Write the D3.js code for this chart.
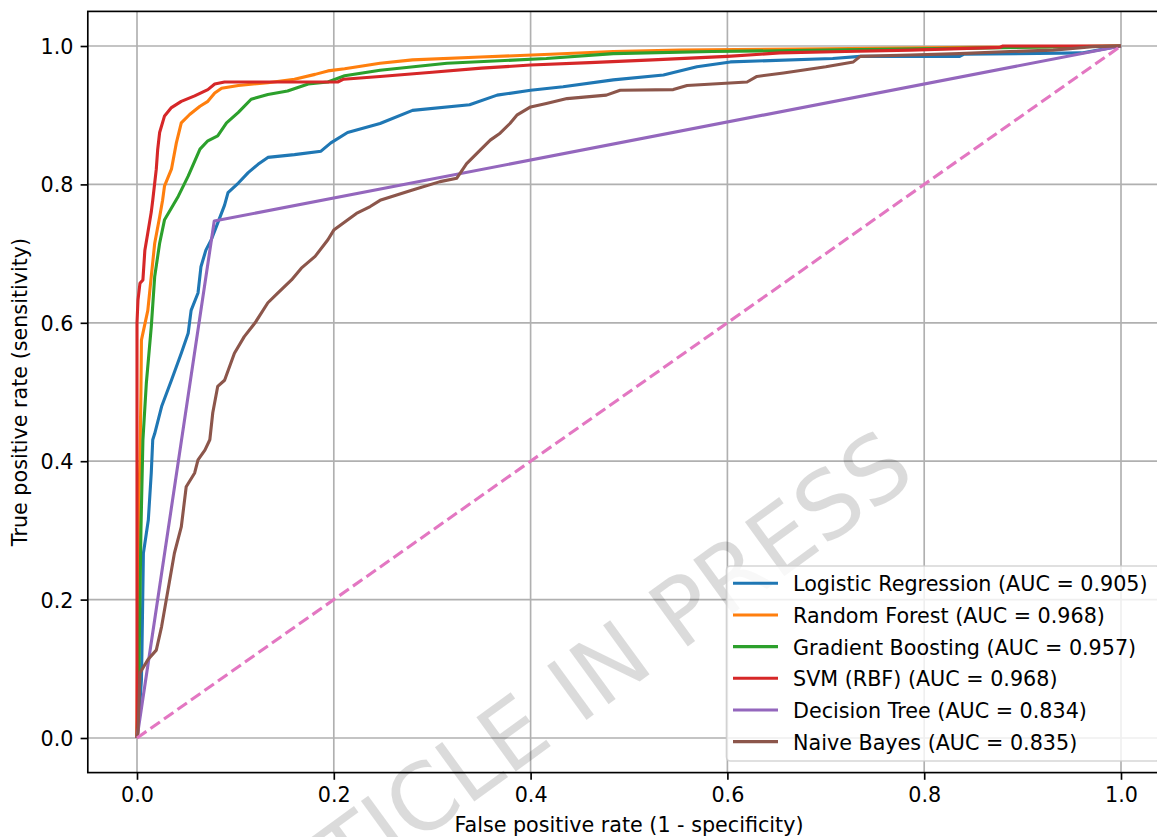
<!DOCTYPE html>
<html>
<head>
<meta charset="utf-8">
<script src="https://cdn.jsdelivr.net/npm/d3@7"></script>
<style>
	body { margin: 0; background: #fff; }
</style>
</head>
<body>
<script>
// ROC points, [false positive rate, true positive rate]
const logisticRegression = [[0,0],[0.002,0.03],[0.0045,0.084],[0.005,0.123],[0.0065,0.267],[0.0115,0.315],[0.0145,0.383],[0.016,0.431],[0.018,0.44],[0.025,0.479],[0.035,0.517],[0.045,0.556],[0.052,0.585],[0.055,0.618],[0.062,0.643],[0.065,0.681],[0.070,0.705],[0.0755,0.720],[0.082,0.744],[0.089,0.770],[0.0925,0.788],[0.103,0.802],[0.113,0.817],[0.123,0.829],[0.133,0.839],[0.160,0.843],[0.187,0.848],[0.197,0.860],[0.214,0.875],[0.247,0.888],[0.28,0.907],[0.338,0.915],[0.366,0.929],[0.40,0.936],[0.433,0.941],[0.484,0.951],[0.535,0.958],[0.569,0.970],[0.603,0.977],[0.707,0.982],[0.735,0.985],[0.836,0.985],[0.84,0.988],[0.96,0.99],[1,1]];
const randomForest = [[0,0],[0.001,0.2],[0.002,0.35],[0.003,0.402],[0.004,0.50],[0.0045,0.575],[0.011,0.618],[0.0145,0.667],[0.018,0.715],[0.023,0.753],[0.026,0.777],[0.028,0.798],[0.035,0.822],[0.040,0.860],[0.045,0.889],[0.0535,0.901],[0.064,0.913],[0.072,0.920],[0.079,0.932],[0.086,0.939],[0.103,0.943],[0.133,0.947],[0.160,0.952],[0.181,0.959],[0.194,0.964],[0.211,0.967],[0.247,0.975],[0.28,0.98],[0.349,0.984],[0.42,0.988],[0.484,0.992],[0.552,0.994],[0.70,0.996],[0.85,0.998],[1,1]];
const gradientBoosting = [[0,0],[0.002,0.1],[0.004,0.3],[0.006,0.43],[0.0095,0.513],[0.0145,0.594],[0.018,0.667],[0.023,0.715],[0.028,0.749],[0.035,0.766],[0.042,0.783],[0.052,0.812],[0.064,0.851],[0.072,0.863],[0.082,0.870],[0.091,0.889],[0.103,0.904],[0.116,0.923],[0.133,0.930],[0.153,0.935],[0.174,0.945],[0.194,0.948],[0.211,0.957],[0.247,0.965],[0.315,0.975],[0.416,0.982],[0.484,0.989],[0.585,0.992],[0.70,0.994],[0.85,0.997],[1,1]];
const svmRbf = [[0,0],[0,0.60],[0.001,0.633],[0.003,0.657],[0.006,0.662],[0.008,0.705],[0.011,0.73],[0.0145,0.76],[0.016,0.777],[0.0196,0.822],[0.021,0.85],[0.023,0.875],[0.028,0.899],[0.035,0.911],[0.045,0.920],[0.0586,0.928],[0.072,0.937],[0.079,0.945],[0.089,0.948],[0.204,0.948],[0.21,0.952],[0.247,0.956],[0.30,0.962],[0.35,0.968],[0.40,0.9725],[0.46,0.976],[0.524,0.98],[0.60,0.985],[0.653,0.99],[0.72,0.992],[0.786,0.994],[0.877,0.998],[0.88,1],[1,1]];
const decisionTree = [[0,0],[0.0785,0.747],[1,1]];
const naiveBayes = [[0,0],[0.001,0.007],[0.003,0.094],[0.011,0.113],[0.0196,0.127],[0.025,0.161],[0.031,0.21],[0.038,0.267],[0.045,0.305],[0.050,0.363],[0.0586,0.383],[0.062,0.402],[0.069,0.416],[0.074,0.431],[0.077,0.47],[0.082,0.508],[0.089,0.517],[0.099,0.556],[0.109,0.58],[0.12,0.60],[0.133,0.629],[0.143,0.643],[0.157,0.662],[0.167,0.679],[0.181,0.696],[0.194,0.72],[0.2,0.734],[0.223,0.758],[0.237,0.768],[0.247,0.777],[0.28,0.792],[0.308,0.804],[0.325,0.809],[0.335,0.830],[0.349,0.850],[0.359,0.864],[0.369,0.874],[0.379,0.888],[0.386,0.90],[0.40,0.912],[0.416,0.917],[0.437,0.924],[0.477,0.929],[0.491,0.936],[0.545,0.937],[0.559,0.943],[0.62,0.948],[0.63,0.956],[0.657,0.961],[0.70,0.970],[0.728,0.977],[0.735,0.985],[0.786,0.987],[0.836,0.989],[0.887,0.992],[0.931,0.994],[0.971,0.999],[1,1]];
const chanceLine = [[0,0],[1,1]];

const modelNames = ["Logistic Regression", "Random Forest", "Gradient Boosting", "SVM (RBF)", "Decision Tree", "Naive Bayes"];
const aucValues = [0.905, 0.968, 0.957, 0.968, 0.834, 0.835];
const modelCurves = [logisticRegression, randomForest, gradientBoosting, svmRbf, decisionTree, naiveBayes];
const tickValues = [0, 0.2, 0.4, 0.6, 0.8, 1.0];

const xLabel = "False positive rate (1 - specificity)";
const yLabel = "True positive rate (sensitivity)";
const watermark = "ARTICLE IN PRESS";

const WIDTH = 1157;
const HEIGHT = 837;
const PLOT = { left: 87.8, right: 1170.2, top: 11.4, bottom: 772.6 };
const FONT = "'DejaVu Sans', sans-serif";
const FONT_SIZE = 20.7;
const TICK_SIZE = 7.2;
const LINE_W = 3.1;
const THIN_W = 1.66;
const COLORS = ["#1f77b4", "#ff7f0e", "#2ca02c", "#d62728", "#9467bd", "#8c564b"];

const svg = d3.create("svg")
	.attr("width", WIDTH)
	.attr("height", HEIGHT)
	.style("display", "block")
	.style("background", "#fff");

const x = d3.scaleLinear()
	.domain([-0.05, 1.05])
	.range([PLOT.left, PLOT.right]);

const y = d3.scaleLinear()
	.domain([-0.05, 1.05])
	.range([PLOT.bottom, PLOT.top]);

svg.append("clipPath")
	.attr("id", "plotClip")
	.append("rect")
	.attr("x", PLOT.left)
	.attr("y", PLOT.top)
	.attr("width", PLOT.right - PLOT.left)
	.attr("height", PLOT.bottom - PLOT.top);

// grid
const gridGroup = svg.append("g").attr("class", "grid");
gridGroup.selectAll(".vertical-line")
	.data(tickValues)
	.join("line")
	.attr("x1", d => x(d))
	.attr("x2", d => x(d))
	.attr("y1", PLOT.top)
	.attr("y2", PLOT.bottom)
	.attr("stroke", "#b0b0b0")
	.attr("stroke-width", THIN_W);
gridGroup.selectAll(".horizontal-line")
	.data(tickValues)
	.join("line")
	.attr("x1", PLOT.left)
	.attr("x2", PLOT.right)
	.attr("y1", d => y(d))
	.attr("y2", d => y(d))
	.attr("stroke", "#b0b0b0")
	.attr("stroke-width", THIN_W);

const line = d3.line()
	.x(d => x(d[0]))
	.y(d => y(d[1]));

const curves = svg.append("g").attr("clip-path", "url(#plotClip)");
curves.selectAll(".roc")
	.data(modelCurves)
	.join("path")
	.attr("class", "roc")
	.attr("d", line)
	.attr("fill", "none")
	.attr("stroke", (d, i) => COLORS[i])
	.attr("stroke-width", LINE_W)
	.attr("stroke-linejoin", "round");

curves.append("path")
	.datum(chanceLine)
	.attr("d", line)
	.attr("fill", "none")
	.attr("stroke", "#e377c2")
	.attr("stroke-width", LINE_W)
	.attr("stroke-dasharray", "11.5,5");

// axes
const xAxis = d3.axisBottom(x)
	.tickValues(tickValues)
	.tickFormat(d3.format(".1f"))
	.tickSize(TICK_SIZE)
	.tickPadding(7.2);
const xAxisGroup = svg.append("g")
	.attr("transform", `translate(0,${PLOT.bottom})`)
	.call(xAxis);

const yAxis = d3.axisLeft(y)
	.tickValues(tickValues)
	.tickFormat(d3.format(".1f"))
	.tickSize(TICK_SIZE)
	.tickPadding(7.2);
const yAxisGroup = svg.append("g")
	.attr("transform", `translate(${PLOT.left},0)`)
	.call(yAxis);

[xAxisGroup, yAxisGroup].forEach(g => {
	g.select(".domain").remove();
	g.selectAll(".tick line").attr("stroke", "#000").attr("stroke-width", THIN_W);
	g.selectAll(".tick text")
		.attr("fill", "#000")
		.style("font-family", FONT)
		.style("font-size", `${FONT_SIZE}px`);
});
xAxisGroup.selectAll(".tick text").attr("dy", "0.72em");
yAxisGroup.selectAll(".tick text").attr("dy", "0.36em");

svg.append("rect")
	.attr("x", PLOT.left)
	.attr("y", PLOT.top)
	.attr("width", PLOT.right - PLOT.left)
	.attr("height", PLOT.bottom - PLOT.top)
	.attr("fill", "none")
	.attr("stroke", "#000")
	.attr("stroke-width", THIN_W);

svg.append("text")
	.attr("x", (PLOT.left + PLOT.right) / 2)
	.attr("y", 832)
	.attr("text-anchor", "middle")
	.style("font-family", FONT)
	.style("font-size", `${FONT_SIZE}px`)
	.text(xLabel);

svg.append("text")
	.attr("transform", `translate(27,${(PLOT.top + PLOT.bottom) / 2}) rotate(-90)`)
	.attr("text-anchor", "middle")
	.style("font-family", FONT)
	.style("font-size", `${FONT_SIZE}px`)
	.text(yLabel);

// watermark, runs off the bottom edge like the original
svg.append("text")
	.attr("transform", "translate(566,696) rotate(-36)")
	.attr("text-anchor", "middle")
	.attr("dominant-baseline", "central")
	.style("font-family", FONT)
	.style("font-size", "92px")
	.attr("fill", "#000")
	.attr("fill-opacity", 0.14)
	.text(watermark);

// legend
const LEGEND = { left: 726.5, top: 566, right: 1160, bottom: 761, rowGap: 31.67, firstRow: 583.3 };
const legendGroup = svg.append("g");
legendGroup.append("rect")
	.attr("x", LEGEND.left)
	.attr("y", LEGEND.top)
	.attr("width", LEGEND.right - LEGEND.left)
	.attr("height", LEGEND.bottom - LEGEND.top)
	.attr("rx", 4)
	.attr("fill", "#fff")
	.attr("fill-opacity", 0.8)
	.attr("stroke", "#cccccc")
	.attr("stroke-opacity", 0.8)
	.attr("stroke-width", THIN_W);

const rows = legendGroup.selectAll(".legend-row")
	.data(modelNames)
	.join("g")
	.attr("class", "legend-row")
	.attr("transform", (d, i) => `translate(0,${LEGEND.firstRow + i * LEGEND.rowGap})`);
rows.append("line")
	.attr("x1", 733)
	.attr("x2", 778)
	.attr("stroke", (d, i) => COLORS[i])
	.attr("stroke-width", LINE_W);
rows.append("text")
	.attr("x", 793)
	.attr("y", 8)
	.style("font-family", FONT)
	.style("font-size", `${FONT_SIZE}px`)
	.text((d, i) => `${d} (AUC = ${aucValues[i].toFixed(3)})`);

document.body.appendChild(svg.node());
</script>
</body>
</html>
